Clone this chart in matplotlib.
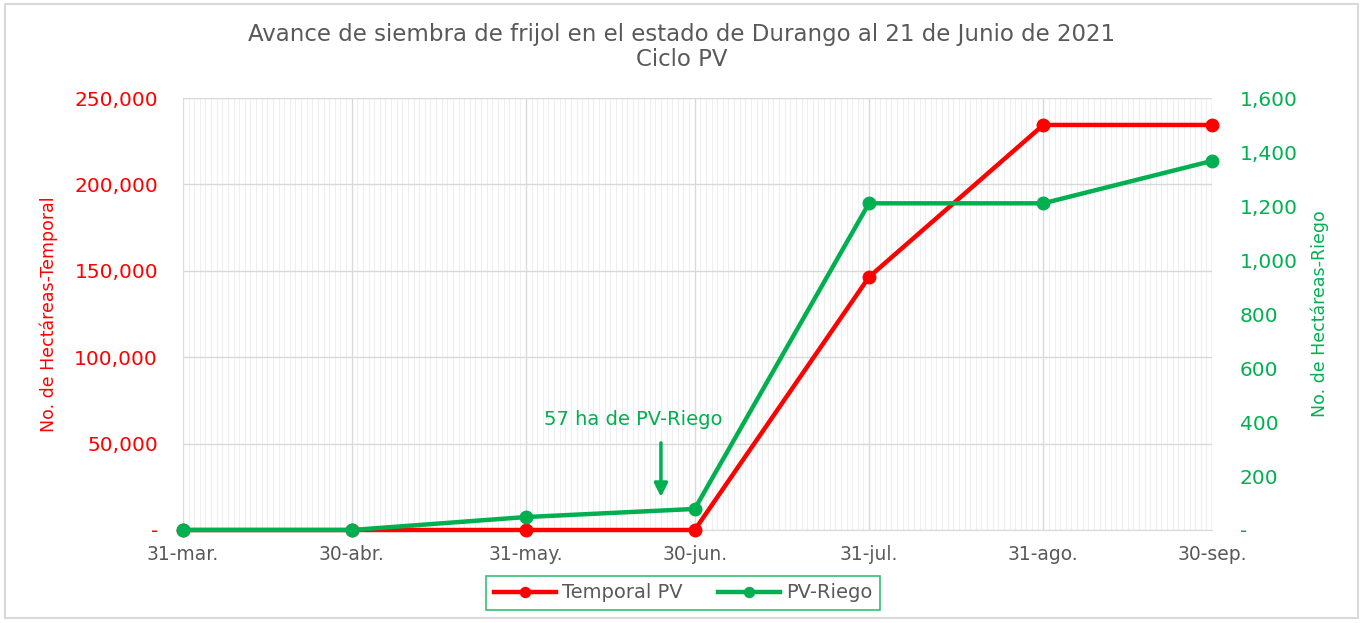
import numpy as np
import matplotlib
matplotlib.use("Agg")
from matplotlib import pyplot as plt
import matplotlib.dates as mdates
from matplotlib.patches import Rectangle
from matplotlib.ticker import FuncFormatter, MultipleLocator, FixedLocator
from datetime import datetime

# data
fechas = ["2021-03-31", "2021-04-30", "2021-05-31", "2021-06-30",
          "2021-07-31", "2021-08-31", "2021-09-30"]
etiquetas = ["31-mar.", "30-abr.", "31-may.", "30-jun.", "31-jul.", "31-ago.", "30-sep."]
temporal = [0, 0, 0, 0, 146400, 234400, 234400]
riego = [0, 0, 48, 78, 1210, 1210, 1367]

ROJO = "#FF0000"
VERDE = "#00B050"
GRIS = "#595959"

plt.rcParams['font.family'] = ['DejaVu Sans']

x = [datetime.strptime(f, "%Y-%m-%d") for f in fechas]

fig = plt.figure(figsize=(13.64, 6.23), dpi=100)
fig.patches.append(Rectangle((5 / 1364, 1 - 618 / 623), 1353 / 1364, 614 / 623,
                             transform=fig.transFigure, fill=False,
                             edgecolor="#D9D9D9", linewidth=1.5))

ax = fig.add_axes([183 / 1364, 1 - 530 / 623, 1029 / 1364, 432 / 623])
ax2 = ax.twinx()

ax.set_xlim(x[0], x[-1])
ax.set_ylim(0, 250000)
ax2.set_ylim(0, 1600)

# grid: daily minor lines, month-end major lines
ax.xaxis.set_major_locator(FixedLocator(mdates.date2num(x)))
ax.xaxis.set_minor_locator(mdates.DayLocator())
ax.set_xticklabels(etiquetas)
ax.grid(which="minor", axis="x", color="#EFEFEF", linewidth=0.8)
ax.grid(which="major", axis="x", color="#D9D9D9", linewidth=1)
ax.yaxis.set_major_locator(MultipleLocator(50000))
ax.grid(which="major", axis="y", color="#D9D9D9", linewidth=1)
ax.set_axisbelow(True)

for a in (ax, ax2):
    for s in a.spines.values():
        s.set_visible(False)
ax.spines["bottom"].set_visible(True)
ax.spines["bottom"].set_color("#D9D9D9")

ax.tick_params(axis="x", which="both", length=0, pad=11, labelsize=13.5, labelcolor=GRIS)
ax.tick_params(axis="y", length=0, pad=18, labelsize=14.5, labelcolor=ROJO)
ax2.tick_params(axis="y", length=0, pad=20, labelsize=14.5, labelcolor=VERDE)

fmt = FuncFormatter(lambda v, p: "-" if v == 0 else f"{v:,.0f}")
ax.yaxis.set_major_formatter(fmt)
ax2.yaxis.set_major_locator(MultipleLocator(200))
ax2.yaxis.set_major_formatter(fmt)

l1, = ax.plot(x, temporal, color=ROJO, linewidth=3.2, marker="o", markersize=9,
              clip_on=False, zorder=3, label="Temporal PV")
l2, = ax2.plot(x, riego, color=VERDE, linewidth=3.2, marker="o", markersize=9,
               clip_on=False, zorder=4, label="PV-Riego")

ax.set_ylabel("No. de Hectáreas-Temporal", color=ROJO, fontsize=12.5, labelpad=12)
ax2.set_ylabel("No. de Hectáreas-Riego", color=VERDE, fontsize=12.5, labelpad=9)

fig.text(0.5, 1 - 34 / 623, "Avance de siembra de frijol en el estado de Durango al 21 de Junio de 2021",
         ha="center", va="center", fontsize=16.5, color=GRIS)
fig.text(0.5, 1 - 59 / 623, "Ciclo PV", ha="center", va="center", fontsize=16.5, color=GRIS)

# annotation arrow
xa = mdates.date2num(datetime(2021, 6, 24))
ax2.annotate("", xy=(xa, 112), xytext=(xa, 333),
             arrowprops=dict(arrowstyle="-|>", color=VERDE, lw=2.5, mutation_scale=20))
ax2.text(mdates.date2num(datetime(2021, 6, 19)), 410, "57 ha de PV-Riego",
         ha="center", va="center", color=VERDE, fontsize=14)

leg = fig.legend(handles=[l1, l2], loc="center", bbox_to_anchor=(683 / 1364, 1 - 593 / 623),
                 ncol=2, frameon=True, fontsize=14, handlelength=3.2, columnspacing=1.8,
                 handletextpad=0.3, borderpad=0.4, fancybox=False, markerscale=0.8)
leg.get_frame().set_edgecolor(VERDE)
leg.get_frame().set_linewidth(1.2)
for t in leg.get_texts():
    t.set_color(GRIS)

fig.savefig("out.png", dpi=100)
